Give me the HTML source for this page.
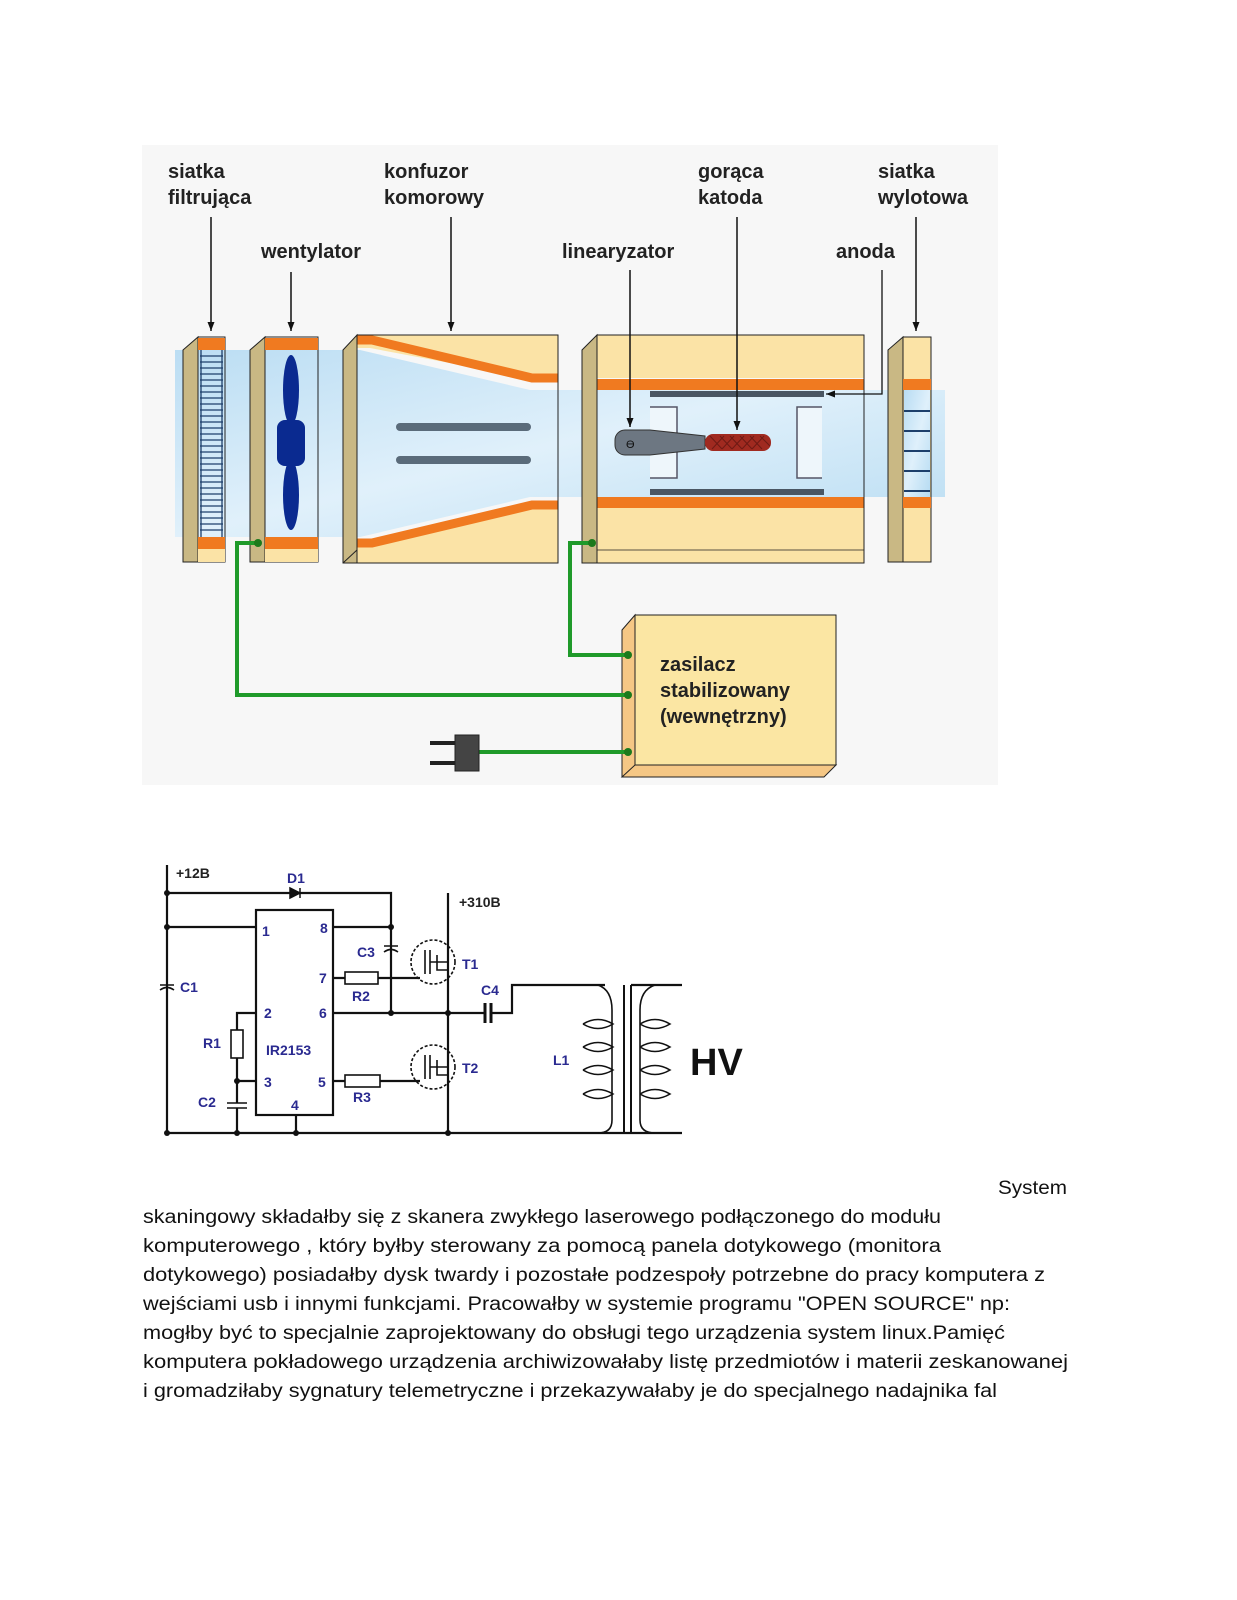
<!DOCTYPE html>
<html><head><meta charset="utf-8"><style>
html,body{margin:0;padding:0;background:#fff;}
svg{display:block;}
.lb{font-family:"Liberation Sans",sans-serif;font-weight:bold;font-size:20px;fill:#222;}
.ct{font-family:"Liberation Sans",sans-serif;font-weight:bold;font-size:14px;fill:#2a2a90;}
.ck{font-family:"Liberation Sans",sans-serif;font-weight:bold;font-size:14px;fill:#222;}
.tx{font-family:"Liberation Sans",sans-serif;font-size:19px;fill:#111;}
</style></head><body>
<svg width="1237" height="1600" viewBox="0 0 1237 1600" xmlns="http://www.w3.org/2000/svg">
<defs>
<marker id="ar" markerWidth="10" markerHeight="8" refX="9" refY="4" orient="auto" markerUnits="userSpaceOnUse"><path d="M0,0.5 L9,4 L0,7.5 Z" fill="#111"/></marker>
<linearGradient id="bl" x1="0" y1="0" x2="1" y2="1"><stop offset="0" stop-color="#b8dcf3"/><stop offset="0.5" stop-color="#dff0fb"/><stop offset="1" stop-color="#b5dbf2"/></linearGradient>
</defs>
<rect x="142" y="145" width="856" height="640" fill="#f7f7f7"/>
<!-- labels -->
<text class="lb" x="168" y="178">siatka</text><text class="lb" x="168" y="204">filtrująca</text>
<text class="lb" x="384" y="178">konfuzor</text><text class="lb" x="384" y="204">komorowy</text>
<text class="lb" x="698" y="178">gorąca</text><text class="lb" x="698" y="204">katoda</text>
<text class="lb" x="878" y="178">siatka</text><text class="lb" x="878" y="204">wylotowa</text>
<text class="lb" x="261" y="258">wentylator</text>
<text class="lb" x="562" y="258">linearyzator</text>
<text class="lb" x="836" y="258">anoda</text>
<!-- blue flow -->
<path d="M175,350 H360 L530,390 H945 V497 H530 L360,537 H175 Z" fill="url(#bl)" opacity="0.95"/>
<!-- filter -->
<path d="M183,350 L198,337 V562 L183,562 Z" fill="#c9b884" stroke="#222"/>
<rect x="198" y="337" width="27" height="225" fill="none" stroke="#222"/>
<rect x="198" y="338" width="27" height="12" fill="#f07a20"/>
<rect x="198" y="537" width="27" height="12" fill="#f07a20"/>
<rect x="198" y="549" width="27" height="13" fill="#fbe3a6"/>
<g stroke="#1d3f6b" stroke-width="1.3">
<path d="M200,356H223M200,362H223M200,368H223M200,374H223M200,380H223M200,386H223M200,392H223M200,398H223M200,404H223M200,410H223M200,416H223M200,422H223M200,428H223M200,434H223M200,440H223M200,446H223M200,452H223M200,458H223M200,464H223M200,470H223M200,476H223M200,482H223M200,488H223M200,494H223M200,500H223M200,506H223M200,512H223M200,518H223M200,524H223M200,530H223"/>
<path d="M201,350V537M222,350V537"/></g>
<!-- fan -->
<path d="M250,350 L265,337 V562 L250,562 Z" fill="#c9b884" stroke="#222"/>
<rect x="265" y="337" width="53" height="225" fill="none" stroke="#222"/>
<rect x="265" y="338" width="53" height="12" fill="#f07a20"/>
<rect x="265" y="537" width="53" height="12" fill="#f07a20"/>
<rect x="265" y="549" width="53" height="13" fill="#fbe3a6"/>
<ellipse cx="291" cy="390" rx="8" ry="35" fill="#0a2a90"/>
<ellipse cx="291" cy="495" rx="8" ry="35" fill="#0a2a90"/>
<rect x="277" y="420" width="28" height="46" rx="8" fill="#0a2a90"/>
<!-- konfuzor -->
<path d="M343,350 L357,335 V563 L343,563 Z" fill="#c9b884" stroke="#222"/>
<path d="M357,335 H558 V378 H530 L370,348 H357 Z" fill="#fbe3a6"/>
<path d="M357,540 H370 L530,508 H558 V563 H357 Z" fill="#fbe3a6"/>
<path d="M357,340 H372 L532,378 H558" fill="none" stroke="#f07a20" stroke-width="9"/>
<path d="M357,543 H372 L532,505 H558" fill="none" stroke="#f07a20" stroke-width="9"/>
<rect x="357" y="335" width="201" height="228" fill="none" stroke="#222"/>
<path d="M343,563 L357,550" stroke="#222"/>
<rect x="396" y="423" width="135" height="8" rx="4" fill="#5a6b7a"/>
<rect x="396" y="456" width="135" height="8" rx="4" fill="#5a6b7a"/>
<!-- chamber -->
<path d="M582,350 L597,335 V563 L582,563 Z" fill="#c9b884" stroke="#222"/>
<rect x="597" y="335" width="267" height="43" fill="#fbe3a6"/>
<rect x="597" y="508" width="267" height="55" fill="#fbe3a6"/>
<rect x="597" y="379" width="267" height="11" fill="#f07a20"/>
<rect x="597" y="497" width="267" height="11" fill="#f07a20"/>
<rect x="597" y="335" width="267" height="228" fill="none" stroke="#222"/>
<path d="M597,550 H864" stroke="#222" stroke-width="0.8"/>
<rect x="650" y="391" width="174" height="6" fill="#4a5663"/>
<rect x="650" y="489" width="174" height="6" fill="#4a5663"/>
<path d="M650,407H677V478H650M822,407H797V478H822" fill="#eef6fb" stroke="#556" stroke-width="1.5"/>
<path d="M615,440 a10,10 0 0 1 10,-10 H650 L705,436 V449 L650,455 H625 a10,10 0 0 1 -10,-10 Z" fill="#6d7782" stroke="#333"/>
<text x="626" y="448" font-family="Liberation Sans,sans-serif" font-size="11" fill="#111">ϴ</text>
<rect x="705" y="434" width="66" height="17" rx="8" fill="#a02a20"/>
<g stroke="#5a1410" stroke-width="1" opacity="0.7"><path d="M710,436 L722,449 M720,436 L732,449 M730,436 L742,449 M740,436 L752,449 M750,436 L762,449 M760,436 L770,446 M712,449 L724,436 M722,449 L734,436 M732,449 L744,436 M742,449 L754,436 M752,449 L764,436"/></g>
<!-- outlet -->
<path d="M888,350 L903,337 V562 L888,562 Z" fill="#c9b884" stroke="#222"/>
<rect x="903" y="337" width="28" height="225" fill="#fbe3a6" stroke="#222"/>
<rect x="903" y="379" width="28" height="11" fill="#f07a20"/>
<rect x="903" y="497" width="28" height="11" fill="#f07a20"/>
<rect x="904" y="390" width="26" height="107" fill="url(#bl)"/>
<g stroke="#1d3f6b" stroke-width="2"><path d="M904,411H930M904,431H930M904,451H930M904,471H930M904,491H930"/></g>
<!-- arrows -->
<g stroke="#111" stroke-width="1.5" fill="none" marker-end="url(#ar)">
<path d="M211,217V331"/><path d="M291,272V331"/><path d="M451,217V331"/><path d="M916,217V331"/>
<path d="M630,270V427"/><path d="M737,217V430"/>
</g>
<path d="M882,270V394H826" stroke="#111" stroke-width="1.3" fill="none" marker-end="url(#ar)"/>
<!-- power supply -->
<path d="M622,630 L635,615 V777 L622,777 Z" fill="#f5c785" stroke="#222"/>
<path d="M622,777 L635,765 H836 L824,777 Z" fill="#f5c785" stroke="#222"/>
<rect x="635" y="615" width="201" height="150" fill="#fbe6a3" stroke="#222"/>
<text class="lb" x="660" y="671">zasilacz</text>
<text class="lb" x="660" y="697">stabilizowany</text>
<text class="lb" x="660" y="723">(wewnętrzny)</text>
<!-- green wires -->
<g stroke="#1f9a2a" stroke-width="4" fill="none">
<path d="M258,543 H237 V695 H628"/><path d="M592,543 H570 V655 H628"/><path d="M478,752 H628"/>
</g>
<g fill="#1c7a1c"><circle cx="258" cy="543" r="4"/><circle cx="592" cy="543" r="4"/><circle cx="628" cy="655" r="4"/><circle cx="628" cy="695" r="4"/><circle cx="628" cy="752" r="4"/></g>
<rect x="455" y="735" width="24" height="36" fill="#444" stroke="#222"/>
<path d="M430,743H455M430,763H455" stroke="#222" stroke-width="4"/>
<!-- circuit -->
<g stroke="#111" stroke-width="2.2" fill="none">
<path d="M167,865V1133H682"/>
<path d="M167,893H391V1013"/>
<path d="M167,927H256M333,927H391"/>
<rect x="256" y="910" width="77" height="205"/>
<path d="M333,978H345M378,978H420"/>
<path d="M333,1013H485M492,1013H512V985H605"/>
<path d="M448,893V1133"/>
<path d="M333,1081H345M380,1081H420"/>
<path d="M256,1013H237V1030M237,1058V1103M256,1081H237"/>
<path d="M237,1108V1133M296,1115V1133"/>
<path d="M631,985H682"/>
</g>
<g stroke="#111" stroke-width="1.6" fill="none">
<rect x="345" y="972" width="33" height="12"/><rect x="345" y="1075" width="35" height="12"/>
<rect x="231" y="1030" width="12" height="28"/>
<path d="M227,1103H247M227,1108H247"/>
<path d="M485,1003V1023M491,1003V1023" stroke-width="3"/>
<path d="M384,946H398M384,952 Q391,947 398,952"/>
<path d="M160,985H174M160,990 Q167,985 174,990"/>
<circle cx="433" cy="962" r="22" stroke-dasharray="3,2"/><circle cx="433" cy="1067" r="22" stroke-dasharray="3,2"/>
<path d="M425,950V974M430,950V974M430,962H448M437,955V970H448M425,1055V1079M430,1055V1079M430,1067H448M437,1060V1075H448"/>
<path d="M624,985V1133M631,985V1133" stroke-width="2"/>
<path d="M598,985 Q612,990 612,1010 V1120 Q612,1133 598,1133M655,985 Q640,990 640,1010 V1120 Q640,1133 655,1133"/>
<path d="M583,1024 Q598,1015 613,1024 Q598,1033 583,1024M583,1047 Q598,1038 613,1047 Q598,1056 583,1047M583,1070 Q598,1061 613,1070 Q598,1079 583,1070M583,1094 Q598,1085 613,1094 Q598,1103 583,1094"/>
<path d="M640,1024 Q655,1015 670,1024 Q655,1033 640,1024M640,1047 Q655,1038 670,1047 Q655,1056 640,1047M640,1070 Q655,1061 670,1070 Q655,1079 640,1070M640,1094 Q655,1085 670,1094 Q655,1103 640,1094"/>
</g>
<path d="M290,888V898L300,893Z M300,888V898" fill="#111" stroke="#111" stroke-width="1.5"/>
<g fill="#111"><circle cx="167" cy="893" r="3"/><circle cx="167" cy="927" r="3"/><circle cx="391" cy="927" r="3"/><circle cx="391" cy="1013" r="3"/><circle cx="448" cy="1013" r="3"/><circle cx="237" cy="1081" r="3"/><circle cx="167" cy="1133" r="3"/><circle cx="237" cy="1133" r="3"/><circle cx="296" cy="1133" r="3"/><circle cx="448" cy="1133" r="3"/></g>
<text class="ck" x="176" y="878">+12B</text><text class="ck" x="459" y="907">+310B</text>
<text class="ct" x="287" y="883">D1</text><text class="ct" x="262" y="936">1</text><text class="ct" x="320" y="933">8</text>
<text class="ct" x="357" y="957">C3</text><text class="ct" x="319" y="983">7</text><text class="ct" x="352" y="1001">R2</text>
<text class="ct" x="462" y="969">T1</text><text class="ct" x="481" y="995">C4</text><text class="ct" x="180" y="992">C1</text>
<text class="ct" x="264" y="1018">2</text><text class="ct" x="319" y="1018">6</text><text class="ct" x="203" y="1048">R1</text>
<text class="ct" x="266" y="1055">IR2153</text><text class="ct" x="462" y="1073">T2</text><text class="ct" x="553" y="1065">L1</text>
<text class="ct" x="264" y="1087">3</text><text class="ct" x="318" y="1087">5</text><text class="ct" x="353" y="1102">R3</text>
<text class="ct" x="198" y="1107">C2</text><text class="ct" x="291" y="1110">4</text>
<text x="690" y="1075" font-family="Liberation Sans,sans-serif" font-weight="bold" font-size="38" fill="#111">HV</text>
<!-- paragraph -->
<text class="tx" x="998" y="1194" textLength="69" lengthAdjust="spacingAndGlyphs">System</text>
<text class="tx" x="143" y="1223" textLength="798" lengthAdjust="spacingAndGlyphs">skaningowy składałby się z skanera zwykłego laserowego podłączonego do modułu</text>
<text class="tx" x="143" y="1252" textLength="798" lengthAdjust="spacingAndGlyphs">komputerowego , który byłby sterowany za pomocą panela dotykowego (monitora</text>
<text class="tx" x="143" y="1281" textLength="902" lengthAdjust="spacingAndGlyphs">dotykowego) posiadałby dysk twardy i pozostałe podzespoły potrzebne do pracy komputera z</text>
<text class="tx" x="143" y="1310" textLength="867" lengthAdjust="spacingAndGlyphs">wejściami usb i innymi funkcjami. Pracowałby w systemie programu "OPEN SOURCE" np:</text>
<text class="tx" x="143" y="1339" textLength="862" lengthAdjust="spacingAndGlyphs">mogłby być to specjalnie zaprojektowany do obsługi tego urządzenia system linux.Pamięć</text>
<text class="tx" x="143" y="1368" textLength="925" lengthAdjust="spacingAndGlyphs">komputera pokładowego urządzenia archiwizowałaby listę przedmiotów i materii zeskanowanej</text>
<text class="tx" x="143" y="1397" textLength="854" lengthAdjust="spacingAndGlyphs">i gromadziłaby sygnatury telemetryczne i przekazywałaby je do specjalnego nadajnika fal</text>
</svg>
</body></html>
